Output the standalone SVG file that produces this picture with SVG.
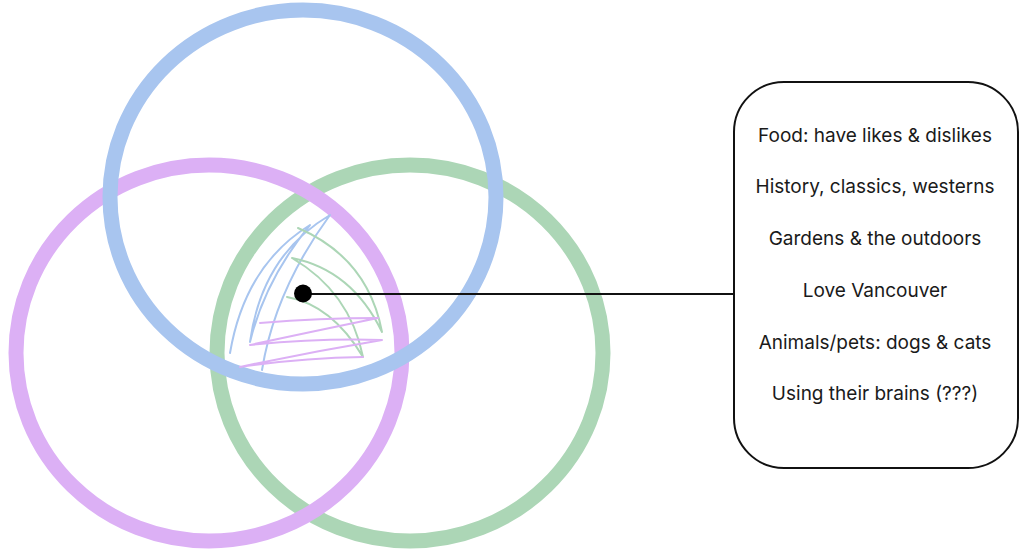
<svg xmlns="http://www.w3.org/2000/svg" width="1024" height="552" viewBox="0 0 1024 552">
<style>
.ring{fill:none;stroke-width:15}
.scr{fill:none;stroke-width:2;stroke-linecap:round;stroke-linejoin:round}
.lbl{font-family:Inter,"Liberation Sans",sans-serif;font-size:19px;fill:#1a1a1a;text-anchor:middle}
</style>
<rect width="1024" height="552" fill="#ffffff"/>
<g id="circle-green"><ellipse class="ring" cx="410" cy="353" rx="193" ry="188" stroke="#acd6b6"/></g>
<g id="circle-purple"><ellipse class="ring" cx="209" cy="353" rx="193" ry="188" stroke="#dcb0f5"/></g>
<g id="circle-blue"><ellipse class="ring" cx="303" cy="197" rx="193" ry="187" stroke="#a8c5ef"/></g>
<g id="scribble">
<path class="scr" stroke="#a8c5ef" d="M230,353 Q245,265 310,225 Q265,280 250,342 Q262,255 330,215 Q275,290 262,370"/>
<path class="scr" stroke="#acd6b6" d="M298,228 Q368,258 382,332 Q352,270 292,258 Q350,292 363,357 Q332,305 287,297"/>
<path class="scr" stroke="#dcb0f5" d="M260,323 Q320,318 378,318 Q310,332 250,345 Q320,338 382,340 Q310,352 240,367 Q300,358 363,357"/>
</g>
<g id="connectors">
<line x1="303" y1="294" x2="734" y2="294" stroke="#111" stroke-width="2"/>
<circle cx="303" cy="293.5" r="9" fill="#000"/>
</g>
<g id="box">
<rect x="734" y="82" width="284" height="386" rx="50" ry="50" fill="#fff" stroke="#111" stroke-width="2"/>
<text class="lbl" x="875" y="141.5">Food: have likes &amp; dislikes</text>
<text class="lbl" x="875" y="193">History, classics, westerns</text>
<text class="lbl" x="875" y="245">Gardens &amp; the outdoors</text>
<text class="lbl" x="875" y="296.5">Love Vancouver</text>
<text class="lbl" x="875" y="348.5">Animals/pets: dogs &amp; cats</text>
<text class="lbl" x="875" y="400">Using their brains (???)</text>
</g>
</svg>
